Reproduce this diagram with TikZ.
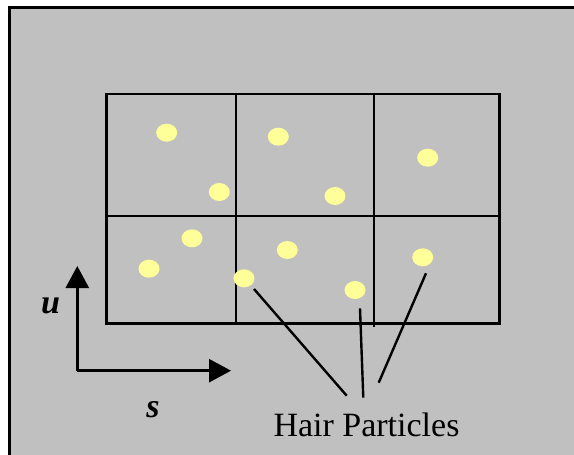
\documentclass[tikz,border=0pt]{standalone}
\usepackage{fontspec}
\setmainfont{Liberation Serif}
\usetikzlibrary{arrows.meta,shapes.geometric}
\definecolor{panelgray}{RGB}{192,192,192}
\definecolor{dotyellow}{RGB}{255,255,153}
\begin{document}
\begin{tikzpicture}[x=1pt,y=-1pt,
  gridline/.style={line width=2.6pt,black},
  dotp/.style={ellipse,fill=dotyellow,draw=none,minimum width=21pt,minimum height=18pt,inner sep=0pt},
  lead/.style={line width=2.4pt,black},
  axis/.style={line width=2.6pt,black,-{Triangle[width=23pt,length=22pt]}},
  lbl/.style={font=\fontsize{34}{40}\selectfont,inner sep=0pt}]
\useasboundingbox (0,0) rectangle (574,455);
% panel
\fill[panelgray] (9,7) rectangle (580,462);
\draw[line width=3pt] (9,462) -- (9,7) -- (580,7);
% grid
\draw[gridline] (106.7,94) rectangle (499.3,323.3);
\draw[gridline] (106.7,216) -- (499.3,216);
\draw[gridline] (235.8,94) -- (235.8,323.3);
\draw[gridline] (374,94) -- (374,327);
% particles
\node[dotp] (p1) at (166.7,132.7) {};
\node[dotp] (p2) at (219.3,192) {};
\node[dotp] (p3) at (278.3,136.7) {};
\node[dotp] (p4) at (335,196) {};
\node[dotp] (p5) at (427.7,157.7) {};
\node[dotp] (p6) at (192,238.3) {};
\node[dotp] (p7) at (149,268.7) {};
\node[dotp] (p8) at (287.3,250) {};
\node[dotp] (p9) at (244,278.3) {};
\node[dotp] (p10) at (355,290) {};
\node[dotp] (p11) at (422.7,257.3) {};
% axes
\coordinate (o) at (77.3,370.7);
\coordinate (uend) at (77.3,266);
\coordinate (send) at (231,370.7);
\draw[axis] (o) -- (uend);
\draw[axis] (o) -- (send);
\node[lbl] (u) at (50.5,306) {\textbf{\textit{u}}};
\node[lbl] (s) at (153,410) {\textbf{\textit{s}}};
% label
\node[lbl,anchor=base] (hp) at (366.5,436) {Hair Particles};
% leaders
\coordinate (a1) at (254,289);
\coordinate (b1) at (346.7,395.7);
\coordinate (a2) at (360,308.3);
\coordinate (b2) at (363.3,397.7);
\coordinate (a3) at (426,273.3);
\coordinate (b3) at (378.7,382.7);
\draw[lead] (a1) -- (b1);
\draw[lead] (a2) -- (b2);
\draw[lead] (a3) -- (b3);
\end{tikzpicture}
\end{document}
